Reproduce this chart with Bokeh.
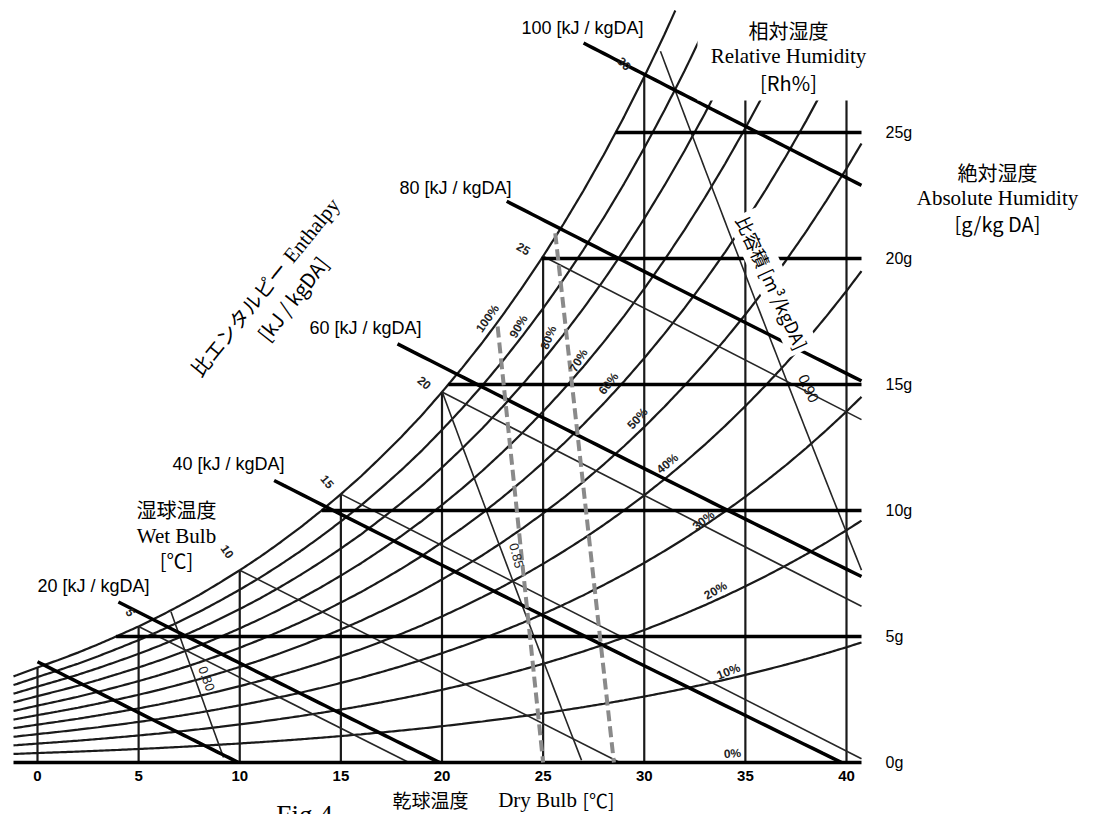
import numpy as np
from bokeh.plotting import figure
from bokeh.models import Label, BoxAnnotation, Range1d
from bokeh.core.properties import value
from bokeh.embed import file_html
from bokeh.resources import INLINE

# ---------------- data ----------------
temps = list(range(-2, 43))  # dry bulb [C]
sat_humidity = [3.19, 3.47, 3.77, 4.06, 4.36, 4.69, 5.04, 5.40, 5.79, 6.21, 6.65,
                7.13, 7.63, 8.16, 8.73, 9.33, 9.97, 10.65, 11.36, 12.13, 12.93,
                13.78, 14.70, 15.66, 16.67, 17.75, 18.89, 20.09, 21.36, 22.70,
                24.12, 25.62, 27.21, 28.89, 30.66, 32.53, 34.51, 36.60, 38.81,
                41.14, 43.61, 46.23, 48.99, 51.9, 55.0]  # g/kg DA at 100 %
rh_levels = [100, 90, 80, 70, 60, 50, 40, 30, 20, 10]
dry_bulb_ticks = [0, 5, 10, 15, 20, 25, 30, 35, 40]
dry_bulb_labels = ["0", "5", "10", "15", "20", "25", "30", "35", "40"]
humidity_lines = [0, 5, 10, 15, 20, 25]
humidity_labels = ["0g", "5g", "10g", "15g", "20g", "25g"]
enthalpy_values = [10, 20, 40, 60, 80, 100]
enthalpy_start_T = [0.0, 4.0, 11.7, 17.8, 23.2, 27.0]
wet_bulb_temps = [5, 10, 15, 20, 25]
volume_values = [0.80, 0.85, 0.90]
dashed_top_T = [22.75, 25.6]
dashed_top_w = [17.3, 21.0]
dashed_bottom_T = [25.0, 28.5]

P = 101.325

# pixel <-> chart scale of the original scan
def sx(px):
    return (px - 37) / 20.225

def sy(py):
    return (762 - py) / 25.2

# chart area (lines are cut at its edges)
XMIN, XMAX, YMIN, YMAX = sx(13), sx(861), sy(764), sy(10)

p = figure(width=1095, height=814,
           x_range=Range1d(sx(0), sx(1095)), y_range=Range1d(sy(814), sy(0)),
           output_backend="svg", toolbar_location=None,
           x_axis_type=None, y_axis_type=None,
           min_border_left=0, min_border_top=0, min_border_right=0, min_border_bottom=0)
p.outline_line_color = None
p.background_fill_color = "white"
p.border_fill_color = "white"

def lb(x0, y0, x1, y1):
    dx, dy = x1 - x0, y1 - y0
    u1, u2 = 0.0, 1.0
    for pi, qi in ((-dx, x0 - XMIN), (dx, XMAX - x0), (-dy, y0 - YMIN), (dy, YMAX - y0)):
        if pi == 0:
            if qi < 0:
                return None
        else:
            t = qi / pi
            if pi < 0:
                u1 = max(u1, t)
            else:
                u2 = min(u2, t)
    if u1 > u2:
        return None
    return u1, u2

def clip(xs, ys):
    pieces = []
    cx, cy = [], []
    for i in range(len(xs) - 1):
        x0, y0, x1, y1 = xs[i], ys[i], xs[i + 1], ys[i + 1]
        r = lb(x0, y0, x1, y1)
        if r is None:
            if len(cx) > 1:
                pieces.append((cx, cy))
            cx, cy = [], []
            continue
        u1, u2 = r
        ax, ay = x0 + u1 * (x1 - x0), y0 + u1 * (y1 - y0)
        bx, by = x0 + u2 * (x1 - x0), y0 + u2 * (y1 - y0)
        if u1 > 0 or not cx:
            if len(cx) > 1:
                pieces.append((cx, cy))
            cx, cy = [ax], [ay]
        cx.append(bx)
        cy.append(by)
        if u2 < 1:
            if len(cx) > 1:
                pieces.append((cx, cy))
            cx, cy = [], []
    if len(cx) > 1:
        pieces.append((cx, cy))
    return pieces

def draw(lines, **kw):
    X, Y = [], []
    for xs, ys in lines:
        for a, b in clip(list(xs), list(ys)):
            X.append(a)
            Y.append(b)
    p.multi_line(X, Y, **kw)

T_grid = np.linspace(-2, 42, 441)
ws_grid = np.interp(T_grid, temps, sat_humidity)
ps_grid = P * ws_grid / (622 + ws_grid)

def sat(t):
    return float(np.interp(t, temps, sat_humidity))

# relative humidity curves
rh_lines = []
for rh in rh_levels:
    phi = rh / 100
    w = 622 * phi * ps_grid / (P - phi * ps_grid)
    rh_lines.append((T_grid, w))
draw(rh_lines, line_color="#1a1a1a", line_width=2.2)

# dry bulb verticals
draw([([t, t], [0, sat(t)]) for t in dry_bulb_ticks], line_color="#1a1a1a", line_width=2.2)

# wet bulb lines
wb = []
for t in wet_bulb_temps:
    ws = sat(t)
    t_end = t + ws * (2.501 - 0.002326 * t) / 1.006
    wb.append(([t, t_end], [ws, 0]))
draw(wb, line_color="#262626", line_width=1.6)

# specific volume lines
vl = []
for v in volume_values:
    wv = (v * P / (0.287 * (T_grid + 273.15)) - 1) / 1.6078 * 1000
    m = (wv >= 0) & (wv <= ws_grid + 0.05)
    vl.append((T_grid[m], wv[m]))
draw(vl, line_color="#262626", line_width=1.6)

# absolute humidity lines (thick)
hl = []
for w in humidity_lines:
    t0 = float(np.interp(w, sat_humidity, temps)) if w > 0 else -2
    hl.append(([t0, 42], [w, w]))
draw(hl, line_color="black", line_width=3.5)

# enthalpy lines (thick)
el = []
for h, t0 in zip(enthalpy_values, enthalpy_start_T):
    t1 = min(h / 1.006, 42)
    tt = np.linspace(t0, t1, 60)
    ww = (h - 1.006 * tt) / (2.501 + 0.00186 * tt)
    el.append((tt, ww))
draw(el, line_color="black", line_width=3.5)

# dashed grey lines
draw([([a, b], [c, 0]) for a, b, c in zip(dashed_top_T, dashed_bottom_T, dashed_top_w)],
     line_color="#8a8a8a", line_width=4, line_dash="11 5")

# white box behind relative humidity title
p.add_layout(BoxAnnotation(left=sx(697), right=sx(875), bottom=sy(100), top=sy(0),
                           fill_color="white", fill_alpha=1.0, line_color=None))

CJK = "Noto Sans CJK JP"
SANS = "Liberation Sans"
SERIF = "Liberation Serif"

# tick labels
p.text(x=dry_bulb_ticks, y=[sy(775)] * len(dry_bulb_ticks), text=dry_bulb_labels,
       text_font=value(SANS), text_font_size=value("15px"), text_font_style="bold",
       text_color="black", text_align="center", text_baseline="middle")
p.text(x=[sx(885)] * len(humidity_lines), y=humidity_lines, text=humidity_labels,
       text_font=value(SANS), text_font_size=value("16px"),
       text_color="black", text_align="left", text_baseline="middle")

def lab(text, px, py, font, size, angle=0, style="normal", color="black", bg=None, pad=0,
        baseline="middle"):
    kw = {}
    if bg is not None:
        kw = dict(background_fill_color=bg, background_fill_alpha=1.0, padding=pad)
    p.add_layout(Label(x=sx(px), y=sy(py), text=text, text_font=font,
                       text_font_size=f"{size}px", text_font_style=style,
                       text_color=color, angle=angle, angle_units="deg",
                       text_align="center", text_baseline=baseline, **kw))

# enthalpy value labels
enth_label_pos = {100: (582, 27), 80: (455, 187), 60: (365, 327), 40: (228, 463), 20: (93, 585)}
for h in [100, 80, 60, 40, 20]:
    x, y = enth_label_pos[h]
    lab(f"{h} [kJ / kgDA]", x, y, SANS, 18)

# relative humidity curve labels
rh_label_pos = [("100%", 487, 318, 55), ("90%", 518, 326, 60), ("80%", 548, 337, 68),
                ("70%", 578, 360, 60), ("60%", 608, 383, 52), ("50%", 637, 418, 48),
                ("40%", 667, 463, 40), ("30%", 703, 520, 38), ("20%", 715, 590, 30),
                ("10%", 728, 671, 22), ("0%", 732, 753, 5)]
for t, x, y, a in rh_label_pos:
    lab(t, x, y, SANS, 12, a, "bold", "#222222")

# wet bulb labels
wb_label_pos = [("30", 624, 63, -45), ("25", 523, 248, -30), ("20", 424, 382, -40),
                ("15", 327, 481, -50), ("10", 227, 551, -55), ("5", 130, 612, -60)]
for t, x, y, a in wb_label_pos:
    lab(t, x, y, SANS, 12, a, "bold", "#222222")

# specific volume labels
lab("0.85", 516, 555, SANS, 13, -75, "normal", "#222222")
lab("0.80", 206, 678, SANS, 13, -70, "normal", "#222222")
lab("0.90", 808, 388, SANS, 15, -65, "normal", "#111111")
lab("比容積 [m³/kgDA]", 772, 282, CJK, 18, -65.3, bg="white", pad=3)

# titles
lab("相対湿度", 788, 30, CJK, 20)
lab("Relative Humidity", 788, 55, SERIF, 21)
lab("[Rh%]", 788, 82, CJK, 20)

lab("絶対湿度", 997, 172, CJK, 20)
lab("Absolute Humidity", 997, 197, SERIF, 21)
lab("[g/kg DA]", 997, 223, CJK, 20)

lab("湿球温度", 176, 509, CJK, 20)
lab("Wet Bulb", 176, 535, SERIF, 21)
lab("[℃]", 176, 560, CJK, 20)

lab("比エンタルピー", 238, 318, CJK, 20, 51)
lab("Enthalpy", 311, 230, SERIF, 21, 51)
lab("[kJ / kgDA]", 292, 298, CJK, 20, 52)

lab("乾球温度", 430, 799, CJK, 19)
lab("Dry Bulb", 537, 799, SERIF, 21)
lab("[℃]", 598, 799, CJK, 19)

lab("Fig.4", 304, 799, SERIF, 27, baseline="top")

open("out.html", "w").write(file_html(p, INLINE))
